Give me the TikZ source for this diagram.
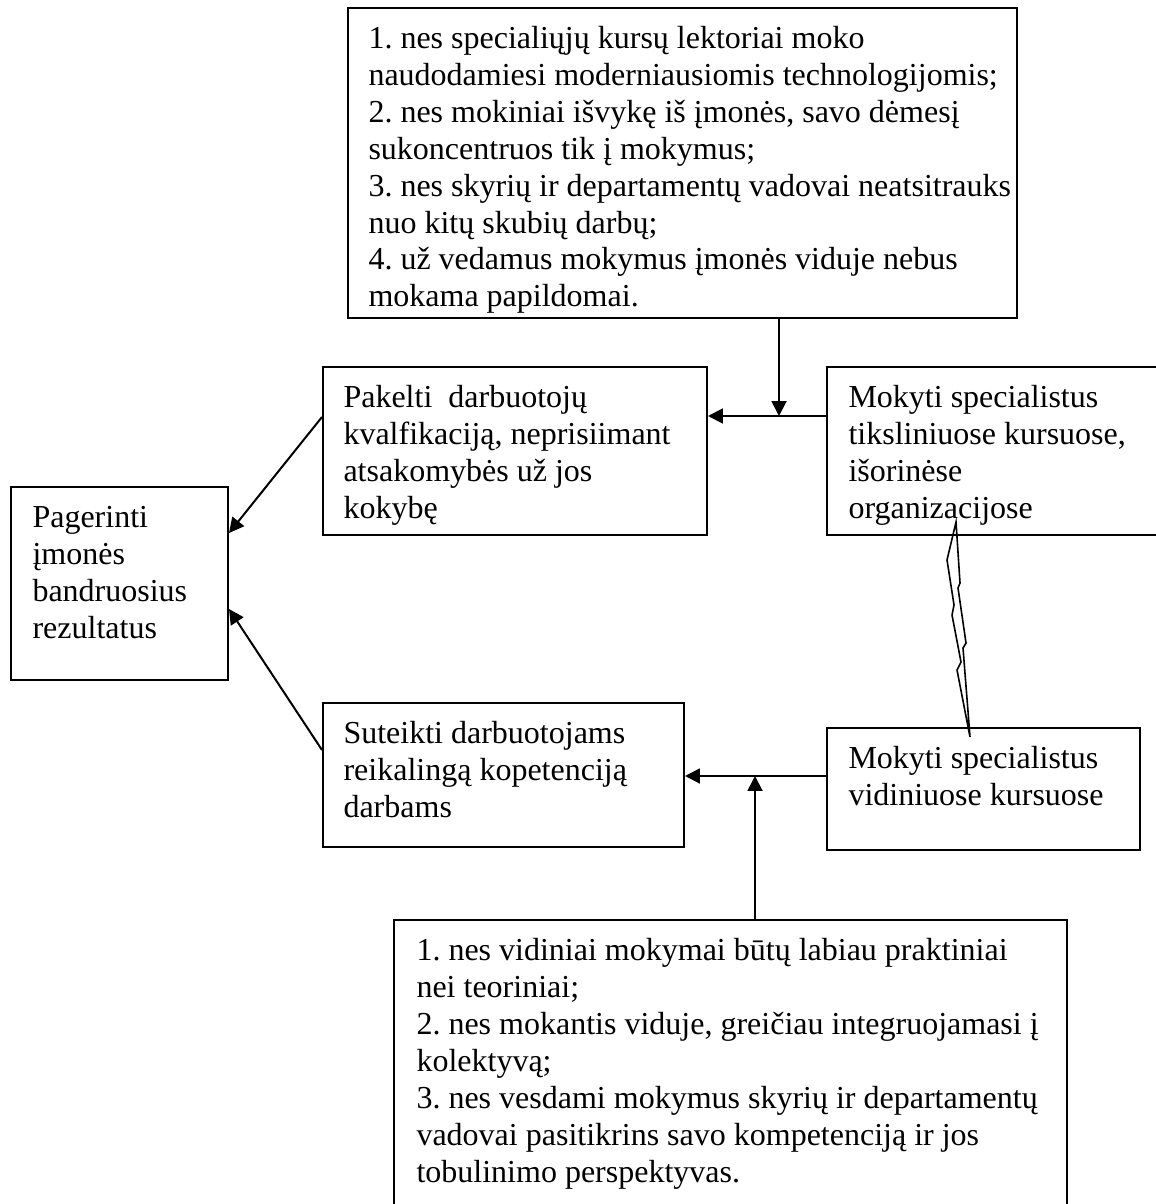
\documentclass[tikz,border=0pt]{standalone}
\usepackage{fontspec}
\setmainfont{Liberation Serif}
\usetikzlibrary{arrows.meta,fit}
\begin{document}
\begin{tikzpicture}[x=0.375pt,y=-0.375pt,
  box/.style={draw, line width=0.75pt, inner sep=0pt, fit=#1},
  txt/.style={anchor=north west, inner sep=0pt, align=left, font=\fontsize{12}{13.85}\selectfont\frenchspacing},
  arr/.style={line width=0.75pt, -{Triangle[length=5.6pt,width=5.6pt]}},
  zig/.style={line width=0.6pt}]
\useasboundingbox (0,0) rectangle (1155,1204);
% box corners
\coordinate (a1) at (348,8);    \coordinate (a2) at (1017,318);
\coordinate (b1) at (323,367);  \coordinate (b2) at (707,535);
\coordinate (c1) at (827,367);  \coordinate (c2) at (1162,535);
\coordinate (p1) at (11,487);   \coordinate (p2) at (228,680);
\coordinate (e1) at (323,703);  \coordinate (e2) at (684,847);
\coordinate (d1) at (827,728);  \coordinate (d2) at (1140,850);
\coordinate (f1) at (394,920);  \coordinate (f2) at (1067,1214);
% boxes
\node[box={(a1)(a2)}] (A) {};
\node[box={(b1)(b2)}] (B) {};
\node[box={(c1)(c2)}] (C) {};
\node[box={(p1)(p2)}] (P) {};
\node[box={(e1)(e2)}] (E) {};
\node[box={(d1)(d2)}] (D) {};
\node[box={(f1)(f2)}] (F) {};
% texts
\node[txt] (tA) at (368,22) {\strut 1. nes specialiųjų kursų lektoriai moko\\
naudodamiesi moderniausiomis technologijomis;\\
2. nes mokiniai išvykę iš įmonės, savo dėmesį\\
sukoncentruos tik į mokymus;\\
3. nes skyrių ir departamentų vadovai neatsitrauks\\
nuo kitų skubių darbų;\\
4. už vedamus mokymus įmonės viduje nebus\\
mokama papildomai.};
\node[txt] (tB) at (343,381) {\strut Pakelti\ \ darbuotojų\\
kvalfikaciją, neprisiimant\\
atsakomybės už jos\\
kokybę};
\node[txt] (tC) at (848,381) {\strut Mokyti specialistus\\
tiksliniuose kursuose,\\
išorinėse\\
organizacijose};
\node[txt] (tP) at (32,501) {\strut Pagerinti\\
įmonės\\
bandruosius\\
rezultatus};
\node[txt] (tE) at (343,717) {\strut Suteikti darbuotojams\\
reikalingą kopetenciją\\
darbams};
\node[txt] (tD) at (848,742) {\strut Mokyti specialistus\\
vidiniuose kursuose};
\node[txt] (tF) at (416,934) {\strut 1. nes vidiniai mokymai būtų labiau praktiniai\\
nei teoriniai;\\
2. nes mokantis viduje, greičiau integruojamasi į\\
kolektyvą;\\
3. nes vesdami mokymus skyrių ir departamentų\\
vadovai pasitikrins savo kompetenciją ir jos\\
tobulinimo perspektyvas.};
% junctions and levels
\coordinate (J1) at (779,416);
\coordinate (J2) at (755,776);
\coordinate (L1) at (0,417);
\coordinate (L2) at (0,533);
\coordinate (L3) at (0,750);
\coordinate (L4) at (0,609);
% connectors
\draw[arr] (C.west |- J1) -- (B.east |- J1);
\draw[arr] (A.south -| J1) -- (J1);
\draw[arr] (D.west |- J2) -- (E.east |- J2);
\draw[arr] (F.north -| J2) -- (J2);
\draw[arr] (B.west |- L1) -- (P.east |- L2);
\draw[arr] (E.west |- L3) -- (P.east |- L4);
% zigzag link between the two right boxes
\draw[zig] (956,522) -- (947,560) -- (954,605) -- (952,615) -- (961,662) -- (957,670) -- (970,737) -- (963,648) -- (966,643) -- (958,588) -- (960,583) -- cycle;
\end{tikzpicture}
\end{document}
